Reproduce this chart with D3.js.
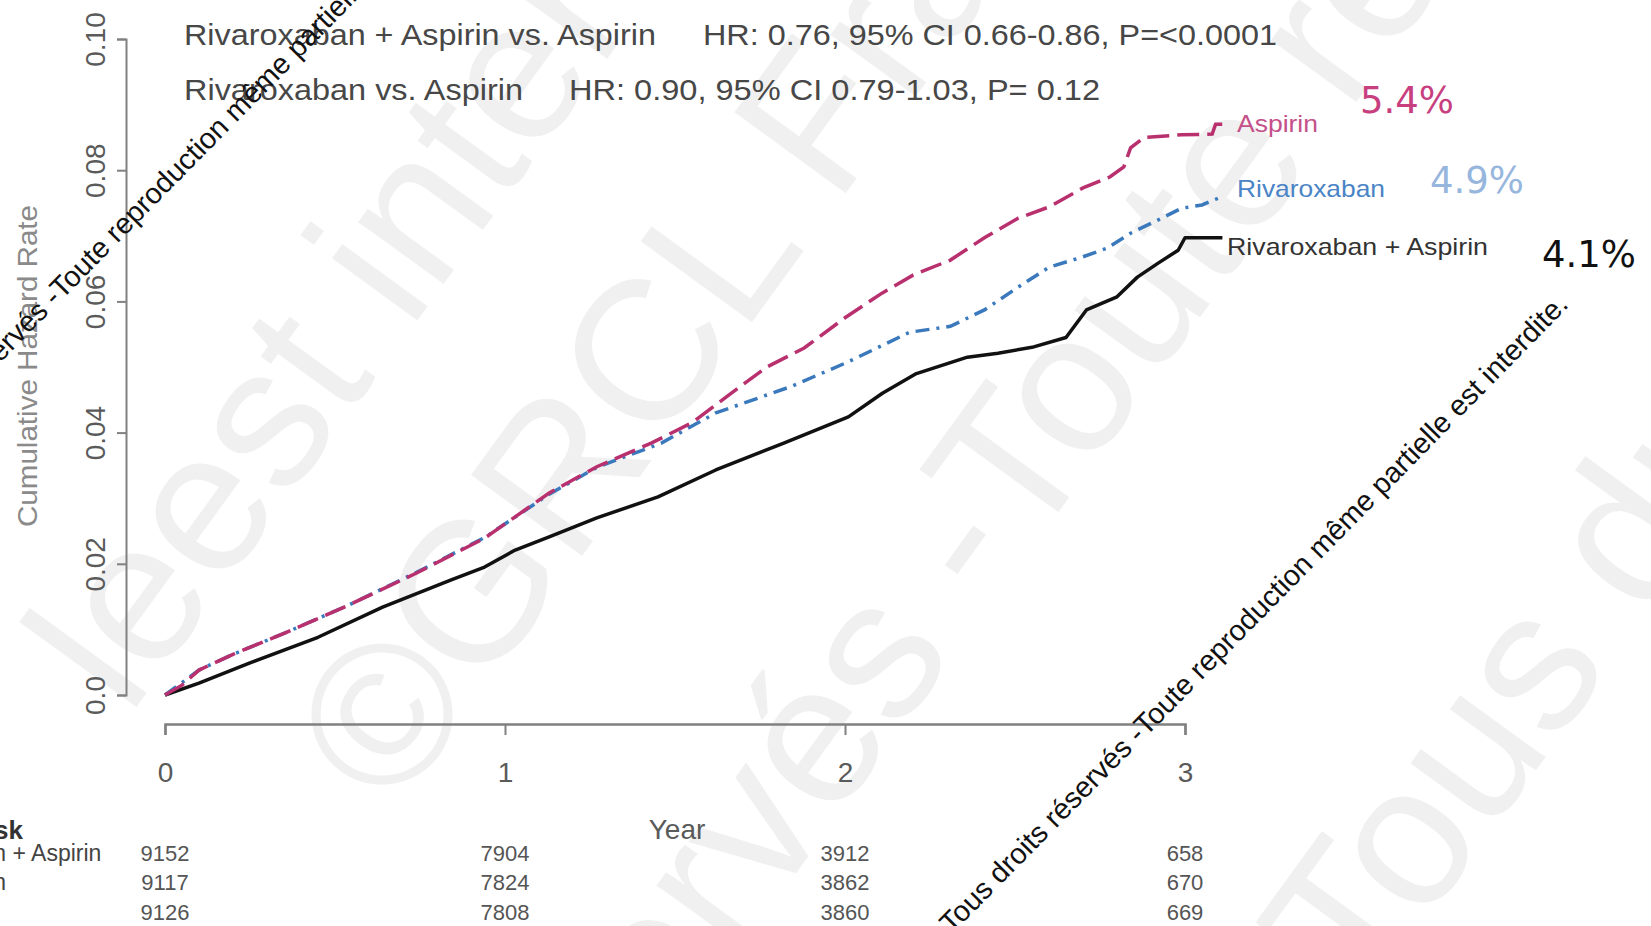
<!DOCTYPE html>
<html>
<head>
<meta charset="utf-8">
<script src="https://cdn.jsdelivr.net/npm/d3@7"></script>
<style>
  html, body { margin: 0; padding: 0; background: #fff; overflow: hidden; }
  svg { display: block; }
  text { font-family: "Liberation Sans", Arial, sans-serif; }
</style>
</head>
<body>
<svg id="chart" width="1651" height="926"></svg>
<script>
// Cumulative hazard by treatment arm (years, rate)
const tRivAsp = [0, 0.10, 0.25, 0.45, 0.64, 0.84, 0.94, 1.03, 1.13, 1.27, 1.45, 1.62, 1.82, 2.01, 2.11, 2.21, 2.36, 2.45, 2.55, 2.65, 2.71, 2.80, 2.86, 2.92, 2.98, 3.00, 3.11];
const hRivAsp = [0, 0.0018, 0.0049, 0.0088, 0.0134, 0.0175, 0.0195, 0.0221, 0.0241, 0.0270, 0.0302, 0.0343, 0.0384, 0.0424, 0.0460, 0.0490, 0.0515, 0.0521, 0.0530, 0.0545, 0.0587, 0.0607, 0.0637, 0.0658, 0.0678, 0.0697, 0.0697];

const tRiv = [0, 0.10, 0.20, 0.35, 0.54, 0.74, 0.94, 1.13, 1.27, 1.46, 1.62, 1.84, 2.01, 2.19, 2.31, 2.41, 2.51, 2.60, 2.70, 2.77, 2.84, 2.92, 2.99, 3.05, 3.11];
const hRiv = [0, 0.0038, 0.0062, 0.0094, 0.0137, 0.0187, 0.0240, 0.0306, 0.0347, 0.0384, 0.0430, 0.0470, 0.0508, 0.0553, 0.0562, 0.0587, 0.0622, 0.0652, 0.0668, 0.0681, 0.0704, 0.0724, 0.0742, 0.0747, 0.0760];

const tAsp = [0, 0.05, 0.10, 0.20, 0.35, 0.54, 0.74, 0.94, 1.13, 1.27, 1.43, 1.55, 1.66, 1.77, 1.88, 2.00, 2.11, 2.20, 2.31, 2.41, 2.51, 2.60, 2.70, 2.78, 2.82, 2.84, 2.88, 2.99, 3.08, 3.09, 3.11];
const hAsp = [0, 0.0015, 0.0038, 0.0062, 0.0094, 0.0137, 0.0186, 0.0239, 0.0308, 0.0348, 0.0384, 0.0415, 0.0458, 0.0500, 0.0529, 0.0575, 0.0613, 0.0640, 0.0663, 0.0697, 0.0727, 0.0744, 0.0773, 0.0790, 0.0805, 0.0834, 0.0850, 0.0854, 0.0855, 0.0870, 0.0870];

// Axis ticks
const yTicks = [0, 0.02, 0.04, 0.06, 0.08, 0.10];
const yTickLabels = ["0.0", "0.02", "0.04", "0.06", "0.08", "0.10"];
const xTicks = [0, 1, 2, 3];

// Number at risk
const riskLabels = ["Rivaroxaban + Aspirin", "Rivaroxaban", "Aspirin"];
const riskRivAsp = [9152, 7904, 3912, 658];
const riskRiv = [9117, 7824, 3862, 670];
const riskAsp = [9126, 7808, 3860, 669];

// End-of-curve labels and event rates
const armNames = ["Aspirin", "Rivaroxaban", "Rivaroxaban + Aspirin"];
const armRates = ["5.4%", "4.9%", "4.1%"];

// Hazard ratio statements
const hrComparisons = ["Rivaroxaban + Aspirin vs. Aspirin", "Rivaroxaban vs. Aspirin"];
const hrStats = ["HR: 0.76, 95% CI 0.66-0.86,  P=<0.0001", "HR: 0.90, 95% CI 0.79-1.03,  P= 0.12"];

const svg = d3.select("#chart");

const x = d3.scaleLinear().domain([0, 3]).range([165, 1185]);
const y = d3.scaleLinear().domain([0, 0.10]).range([695, 39]);

// Text split at a point: the first part ends there, the second starts there
function splitLine(g, px, py, angle, before, after) {
  const gg = g.append("g").attr("transform", `translate(${px},${py}) rotate(${angle})`);
  gg.append("text").attr("text-anchor", "end").text(before);
  gg.append("text").attr("text-anchor", "start").text(after);
}

// ---- faint background watermark ----
const wm = svg.append("g").attr("fill", "#000").attr("fill-opacity", 0.06)
  .style("font-size", "200px");
splitLine(wm, 220, 592, -54, "le ", "est interdite. © GRCL France");
splitLine(wm, 481, 695, -54, "© ", "GRCL France - Tous droits réservés");
splitLine(wm, 1028, 554, -54, "© GRCL France - Tous droits réservés - ", "Toute reproduction même partielle");
splitLine(wm, 1364, 1007, -54, "© GRCL France - ", "Tous droits réservés");

// ---- axes ----
const yAxis = svg.append("g")
  .attr("transform", "translate(126,0)")
  .call(d3.axisLeft(y).tickValues(yTicks).tickSize(9).tickFormat((d, i) => yTickLabels[i]));
yAxis.select(".domain").attr("stroke", "#808080").attr("stroke-width", 2);
yAxis.selectAll(".tick line").attr("stroke", "#808080").attr("stroke-width", 2);
yAxis.selectAll(".tick text")
  .attr("x", null).attr("dy", null)
  .attr("transform", "translate(-21,0) rotate(-90)")
  .attr("text-anchor", "middle")
  .attr("fill", "#5a5a5a")
  .style("font-size", "28px")
  .style("font-family", "'Liberation Sans', Arial, sans-serif");

const xAxis = svg.append("g")
  .attr("transform", "translate(0,724)")
  .call(d3.axisBottom(x).tickValues(xTicks).tickSize(11).tickFormat(d3.format("d")));
xAxis.select(".domain").attr("stroke", "#808080").attr("stroke-width", 2.5);
xAxis.selectAll(".tick line").attr("stroke", "#808080").attr("stroke-width", 2);
xAxis.selectAll(".tick text")
  .attr("y", 58).attr("dy", null)
  .attr("fill", "#5a5a5a")
  .style("font-size", "28px")
  .style("font-family", "'Liberation Sans', Arial, sans-serif");

svg.append("text")
  .attr("transform", "translate(37,366) rotate(-90)")
  .attr("text-anchor", "middle")
  .attr("fill", "#8a8a8a")
  .attr("textLength", 322).attr("lengthAdjust", "spacingAndGlyphs")
  .style("font-size", "28px")
  .text("Cumulative Hazard Rate");

svg.append("text")
  .attr("x", 677).attr("y", 839)
  .attr("text-anchor", "middle")
  .attr("fill", "#5a5a5a")
  .style("font-size", "28px")
  .text("Year");

// ---- curves ----
const line = d3.line().x(d => x(d[0])).y(d => y(d[1]));
svg.append("path").datum(d3.zip(tRivAsp, hRivAsp))
  .attr("fill", "none").attr("stroke", "#111").attr("stroke-width", 3.5)
  .attr("stroke-linejoin", "round").attr("d", line);
svg.append("path").datum(d3.zip(tRiv, hRiv))
  .attr("fill", "none").attr("stroke", "#3b79bd").attr("stroke-width", 3.5)
  .attr("stroke-dasharray", "14,7,3,7").attr("d", line);
svg.append("path").datum(d3.zip(tAsp, hAsp))
  .attr("fill", "none").attr("stroke", "#b9306f").attr("stroke-width", 3.5)
  .attr("stroke-dasharray", "22,8").attr("d", line);

// ---- hazard ratio header ----
const hdr = svg.append("g").attr("fill", "#474747").style("font-size", "30px");
const hdrRows = [
  { y: 45, x1: 184, w1: 472, x2: 703, w2: 574 },
  { y: 100, x1: 184, w1: 339, x2: 569, w2: 531 }
];
hdrRows.forEach((r, i) => {
  hdr.append("text").attr("x", r.x1).attr("y", r.y)
    .attr("textLength", r.w1).attr("lengthAdjust", "spacingAndGlyphs").text(hrComparisons[i]);
  hdr.append("text").attr("x", r.x2).attr("y", r.y)
    .attr("textLength", r.w2).attr("lengthAdjust", "spacingAndGlyphs").text(hrStats[i]);
});

// ---- arm labels and rates ----
const armLab = [
  { x: 1237, y: 132, w: 81, c: "#c4508a" },
  { x: 1237, y: 197, w: 148, c: "#4a84c6" },
  { x: 1227, y: 255, w: 261, c: "#333333" }
];
armLab.forEach((a, i) => {
  svg.append("text").attr("x", a.x).attr("y", a.y).attr("fill", a.c)
    .attr("textLength", a.w).attr("lengthAdjust", "spacingAndGlyphs")
    .style("font-size", "24px").text(armNames[i]);
});
const rateLab = [
  { x: 1360, y: 113, c: "#c83f80" },
  { x: 1430, y: 193, c: "#97b6dd" },
  { x: 1542, y: 267, c: "#111111" }
];
rateLab.forEach((a, i) => {
  svg.append("text").attr("x", a.x).attr("y", a.y).attr("fill", a.c)
    .style("font-family", "'DejaVu Sans', sans-serif")
    .style("font-size", "37px").text(armRates[i]);
});

// ---- number at risk table ----
svg.append("text").attr("x", 23).attr("y", 839).attr("text-anchor", "end")
  .attr("fill", "#333").style("font-size", "26px").style("font-weight", "bold")
  .text("Number at Risk");
const riskRows = [riskRivAsp, riskRiv, riskAsp];
const rowY = [861, 890, 920];
riskRows.forEach((row, i) => {
  svg.append("text").attr("x", -123).attr("y", rowY[i]).attr("fill", "#444")
    .style("font-size", "23px").text(riskLabels[i]);
  svg.selectAll(null).data(row).enter().append("text")
    .attr("x", (d, j) => x(xTicks[j])).attr("y", rowY[i])
    .attr("text-anchor", "middle").attr("fill", "#555")
    .style("font-size", "22px").text(d => d);
});

// ---- copyright notice ----
const cp = svg.append("g").attr("fill", "#111").style("font-size", "29px");
splitLine(cp, 62, 300, -45.5, "Tous droits réservés - ", "Toute reproduction même partielle est interdite.");
splitLine(cp, 1146, 737, -45.5, "Tous droits réservés - ", "Toute reproduction même partielle est interdite.");
</script>
</body>
</html>
